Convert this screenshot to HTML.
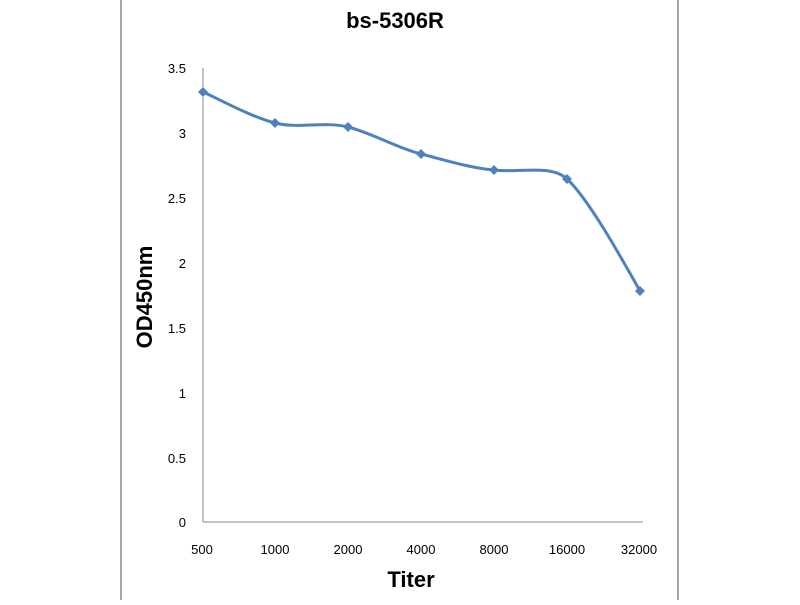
<!DOCTYPE html>
<html><head><style>body{margin:0;background:#fff}</style></head><body>
<svg width="800" height="600" xmlns="http://www.w3.org/2000/svg" font-family="Liberation Sans, sans-serif">
<rect width="800" height="600" fill="#fff"/>
<line x1="121" y1="0" x2="121" y2="600" stroke="#888" stroke-width="1.5"/>
<line x1="678" y1="0" x2="678" y2="600" stroke="#888" stroke-width="1.5"/>
<line x1="203" y1="68" x2="203" y2="522" stroke="#888" stroke-width="1"/>
<line x1="203" y1="522" x2="643" y2="522" stroke="#888" stroke-width="1"/>
<g font-size="13" fill="#000" text-anchor="end">
<text x="186" y="73">3.5</text><text x="186" y="138">3</text><text x="186" y="203">2.5</text>
<text x="186" y="268">2</text><text x="186" y="333">1.5</text><text x="186" y="398">1</text>
<text x="186" y="463">0.5</text><text x="186" y="527">0</text>
</g>
<g font-size="13" fill="#000" text-anchor="middle">
<text x="202" y="554">500</text><text x="275" y="554">1000</text><text x="348" y="554">2000</text>
<text x="421" y="554">4000</text><text x="494" y="554">8000</text><text x="567" y="554">16000</text><text x="639" y="554">32000</text>
</g>
<text x="395" y="28" font-size="22" font-weight="bold" text-anchor="middle">bs-5306R</text>
<text x="411" y="587" font-size="22" font-weight="bold" text-anchor="middle">Titer</text>
<text transform="translate(152,297) rotate(-90)" font-size="22" font-weight="bold" text-anchor="middle">OD450nm</text>
<path d="M203,92 C215,97 251,117 275,123 C299,129 324,121 348,127 C372,133 397,148 421,154 C445,160 470,168 494,170 C518,173 551,164 567,179 C590,200 628,270 640,291" fill="none" stroke="#4f81bd" stroke-width="3"/>
<g fill="#4f81bd">
<path d="M203,87l5,5l-5,5l-5,-5z"/><path d="M275,118l5,5l-5,5l-5,-5z"/><path d="M348,122l5,5l-5,5l-5,-5z"/>
<path d="M421,149l5,5l-5,5l-5,-5z"/><path d="M494,165l5,5l-5,5l-5,-5z"/><path d="M567,174l5,5l-5,5l-5,-5z"/>
<path d="M640,286l5,5l-5,5l-5,-5z"/>
</g>
</svg>
</body></html>
